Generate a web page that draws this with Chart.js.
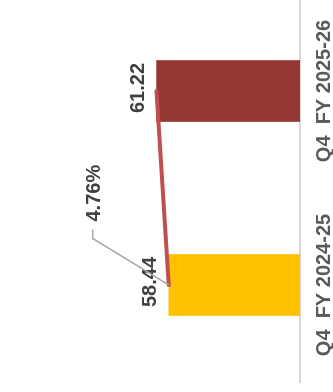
<!DOCTYPE html>
<html><head><meta charset="utf-8">
<script src="https://cdn.jsdelivr.net/npm/chart.js@4"></script>
<style>
html,body{margin:0;padding:0;background:#fff;overflow:hidden;width:333px;height:392px;}
#wrap{position:absolute;left:0;top:0;width:333px;height:392px;overflow:hidden;background:#fff;}
#c{position:absolute;left:0;top:0;transform-origin:0 0;transform:translate(0px,392px) rotate(-90deg);}
</style></head><body>
<div id="wrap"><canvas id="c" width="400" height="333"></canvas></div>
<script>
const categories = ['Q4  FY 2024-25', 'Q4  FY 2025-26'];
const values = [58.44, 61.22];
const barColors = ['#FFC000', '#953735'];
const changePct = ((values[1] - values[0]) / values[0] * 100).toFixed(2) + '%';

const FONT = '"Liberation Sans", Arial, sans-serif';

const labelPlugin = {
  id: 'labels',
  afterDatasetsDraw(chart) {
    const ctx = chart.ctx;
    const meta = chart.getDatasetMeta(1);
    ctx.save();
    ctx.font = 'bold 20px ' + FONT;
    ctx.fillStyle = '#404040';
    ctx.textAlign = 'center';
    ctx.textBaseline = 'alphabetic';
    meta.data.forEach((bar, i) => {
      ctx.fillText(values[i].toFixed(2), bar.x + 3, bar.y - 13);
    });
    const ax = meta.data[0].x, ay = meta.data[0].y;
    ctx.strokeStyle = '#a6a6a6';
    ctx.lineWidth = 1.5;
    ctx.beginPath();
    ctx.moveTo(ax, ay);
    ctx.lineTo(ax + 46.5, ay - 76);
    ctx.lineTo(ax + 55.5, ay - 76);
    ctx.stroke();
    ctx.textAlign = 'left';
    ctx.fillText(changePct, ax + 63.5, ay - 69);
    ctx.restore();
  }
};

new Chart(document.getElementById('c'), {
  data: {
    labels: categories,
    datasets: [
      {
        type: 'line',
        data: values,
        borderColor: '#C0504D',
        borderWidth: 4,
        borderCapStyle: 'round',
        pointRadius: 0,
        fill: false,
        tension: 0
      },
      {
        type: 'bar',
        data: values,
        backgroundColor: barColors,
        barThickness: 61
      }
    ]
  },
  options: {
    responsive: false,
    devicePixelRatio: 1,
    animation: false,
    layout: { padding: { left: 10, right: 2, top: 10, bottom: 0 } },
    plugins: { legend: { display: false }, tooltip: { enabled: false } },
    scales: {
      x: {
        offset: true,
        grid: { display: false, drawTicks: false },
        border: { display: true, color: '#d9d9d9', width: 2 },
        ticks: { font: { family: FONT, size: 20, weight: 'bold' }, color: '#595959', padding: 12, maxRotation: 0, autoSkip: false },
        afterFit(s) { s.height = 33; }
      },
      y: {
        display: false,
        min: 28.8,
        max: 94.35
      }
    }
  },
  plugins: [labelPlugin]
});
</script>
</body></html>
